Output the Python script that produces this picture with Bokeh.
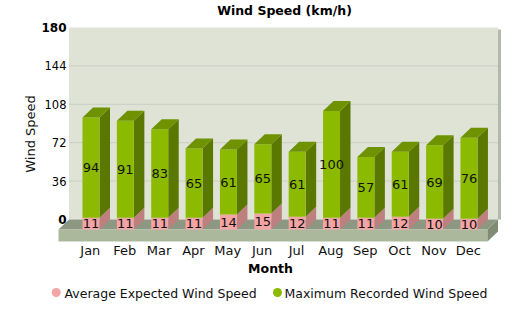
import math
from bokeh.plotting import figure
from bokeh.models import Range1d, ColumnDataSource
from bokeh.embed import file_html
from bokeh.resources import INLINE
from bokeh.core.properties import value

# ---- data ----
months = ["Jan", "Feb", "Mar", "Apr", "May", "Jun",
          "Jul", "Aug", "Sep", "Oct", "Nov", "Dec"]
avg_speed = [11, 11, 11, 11, 14, 15, 12, 11, 11, 12, 10, 10]
max_speed = [94, 91, 83, 65, 61, 65, 61, 100, 57, 61, 69, 76]
y_ticks = [0, 36, 72, 108, 144, 180]
chart_title = "Wind Speed (km/h)"
x_title = "Month"
y_title = "Wind Speed"
series_names = ["Average Expected Wind Speed", "Maximum Recorded Wind Speed"]

# ---- layout ----
W, H = 522, 314
SX = 34.36              # px per category
SY = 192.0 / 180.0      # px per unit
X0 = -90.5 / SX
X1 = X0 + W / SX
Y0 = -(H - 229) / SY
Y1 = Y0 + H / SY

def px(xp):
    return X0 + xp / SX

def py(yp):
    return Y1 - yp / SY

DX = 10.5 / SX
DY = 10.0 / SY
BW = 17.0 / SX
FONT = value("DejaVu Sans")

C_WALL = "#DEE3D6"
C_GRID = "#C9CDC4"
C_SHADOW = "#B3B8AB"
C_FLOOR_TOP = "#8C9881"
C_FLOOR_FRONT = "#ABB89C"
C_FLOOR_SIDE = "#7F8B73"
C_G_FRONT = "#8CBA00"
C_G_SIDE = "#5A7800"
C_G_TOP = "#6E9200"
C_P_FRONT = "#F4A4A4"
C_P_SIDE = "#BE7F7F"

p = figure(width=W, height=H, x_range=Range1d(X0, X1), y_range=Range1d(Y0, Y1),
           output_backend="svg", toolbar_location=None, min_border=0,
           x_axis_location=None, y_axis_location=None,
           background_fill_color="white", border_fill_color="white",
           outline_line_color=None)
p.xgrid.grid_line_color = None
p.ygrid.grid_line_color = None

ymax = y_ticks[-1]
FL = px(58)
FR = px(487)
FT = 12.0 / SY

# back wall
p.quad(left=[FL + DX], right=[FR + DX], bottom=[DY], top=[ymax + DY],
       fill_color=C_WALL, line_color=None)
# wall shadow
p.quad(left=[FR + DX], right=[FR + DX + 3.0 / SX], bottom=[DY],
       top=[ymax + DY - 2.0 / SY], fill_color=C_SHADOW, line_color=None)
# gridlines
gl = y_ticks[1:-1]
p.segment(x0=[FL + DX] * len(gl), x1=[FR + DX] * len(gl),
          y0=[v + DY for v in gl], y1=[v + DY for v in gl],
          line_color=C_GRID, line_width=1)

# floor
p.patch([FL, FR, FR + DX, FL + DX], [0, 0, DY, DY],
        fill_color=C_FLOOR_TOP, line_color=None)
p.quad(left=[FL], right=[FR], bottom=[-FT], top=[0],
       fill_color=C_FLOOR_FRONT, line_color=None)
p.patch([FR, FR + DX, FR + DX, FR], [0, DY, DY - FT, -FT],
        fill_color=C_FLOOR_SIDE, line_color=None)

# bars
idx = list(range(len(months)))
tot = [a + m for a, m in zip(avg_speed, max_speed)]
lft = [i - BW / 2 for i in idx]
rgt = [i + BW / 2 for i in idx]

def side(bottoms, tops):
    xs = [[r, r + DX, r + DX, r] for r in rgt]
    ys = [[b, b + DY, t + DY, t] for b, t in zip(bottoms, tops)]
    return xs, ys

xs, ys = side([0] * len(idx), avg_speed)
p.patches(xs, ys, fill_color=C_P_SIDE, line_color=None)
p.quad(left=lft, right=rgt, bottom=[0] * len(idx), top=avg_speed,
       fill_color=C_P_FRONT, line_color=None)
xs, ys = side(avg_speed, tot)
p.patches(xs, ys, fill_color=C_G_SIDE, line_color=None)
p.quad(left=lft, right=rgt, bottom=avg_speed, top=tot,
       fill_color=C_G_FRONT, line_color=None)
p.patches([[l, r, r + DX, l + DX] for l, r in zip(lft, rgt)],
          [[t, t, t + DY, t + DY] for t in tot],
          fill_color=C_G_TOP, line_color=None)

# value labels
p.text(x=idx, y=[a / 2 for a in avg_speed], text=[str(a) for a in avg_speed],
       text_font=FONT, text_font_size="13px", text_color="#111111",
       text_align="center", text_baseline="middle")
p.text(x=idx, y=[a + m / 2 for a, m in zip(avg_speed, max_speed)],
       text=[str(m) for m in max_speed],
       text_font=FONT, text_font_size="13px", text_color="#111111",
       text_align="center", text_baseline="middle")

# y tick labels
mid_ticks = y_ticks[1:-1]
p.text(x=[px(66)] * len(mid_ticks), y=[v + DY for v in mid_ticks],
       text=[str(v) for v in mid_ticks], text_font=FONT, text_font_size="11.5px",
       text_color="#000000", text_align="right", text_baseline="middle")
end_ticks = [y_ticks[0], y_ticks[-1]]
p.text(x=[px(66)] * 2, y=[v + DY for v in end_ticks],
       text=[str(v) for v in end_ticks], text_font=FONT, text_font_size="12px",
       text_font_style="bold", text_color="#000000",
       text_align="right", text_baseline="middle")

# month labels
p.text(x=[i - 0.02 for i in idx], y=[py(249.5)] * len(idx), text=months,
       text_font=FONT, text_font_size="13px", text_color="#111111",
       text_align="center", text_baseline="middle")

# axis titles
p.text(x=[px(270)], y=[py(268)], text=[x_title], text_font=FONT,
       text_font_size="12.5px", text_font_style="bold", text_color="#000000",
       text_align="center", text_baseline="middle")
p.text(x=[px(30)], y=[py(133.5)], text=[y_title], text_font=FONT,
       text_font_size="13px", angle=math.pi / 2, text_color="#111111",
       text_align="center", text_baseline="middle")

# title
p.text(x=[px(284)], y=[py(9.5)], text=[chart_title], text_font=FONT,
       text_font_size="12.5px", text_font_style="bold", text_color="#000000",
       text_align="center", text_baseline="middle")

# legend
p.scatter(x=[px(55.7), px(277)], y=[py(292)] * 2, size=9,
          fill_color=[C_P_FRONT, C_G_FRONT], line_color=None)
p.text(x=[px(64), px(284)], y=[py(292.5)] * 2, text=series_names,
       text_font=FONT, text_font_size="12.5px", text_color="#111111",
       text_align="left", text_baseline="middle")

open("out.html", "w").write(file_html(p, INLINE))
